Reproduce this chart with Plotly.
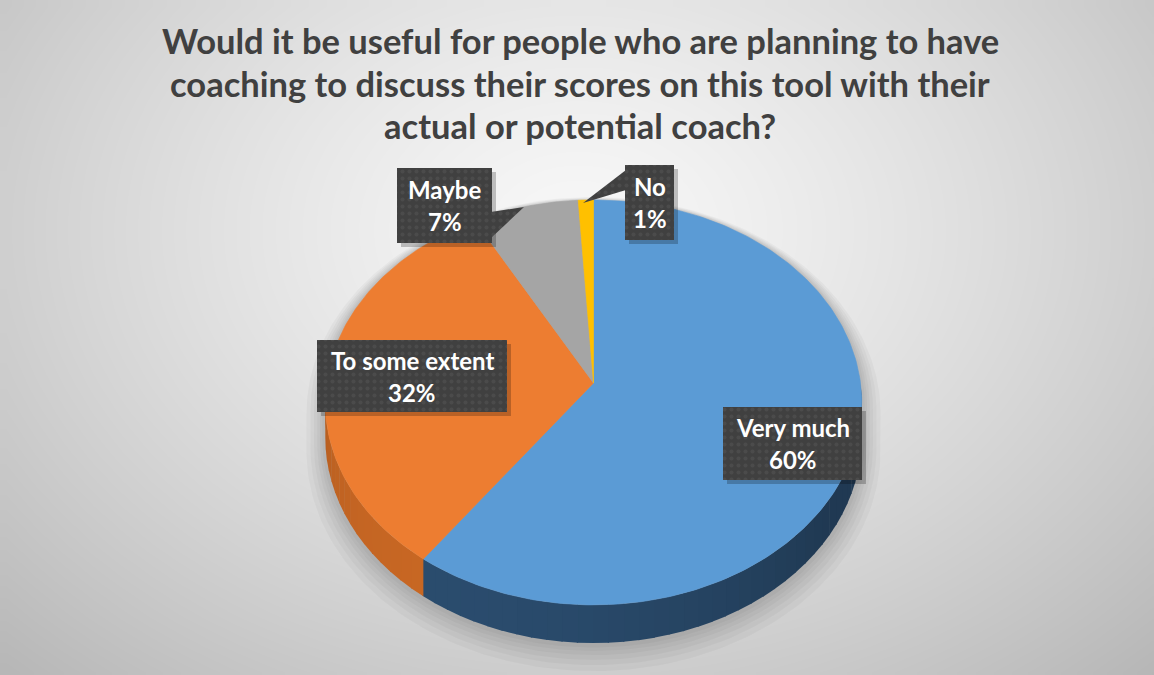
import numpy as np
import plotly.graph_objects as go

# Survey responses
labels = ["Very much", "To some extent", "Maybe", "No"]
values = [60, 32, 7, 1]
top_colors = ["#5B9BD5", "#ED7D31", "#A5A5A5", "#FFC000"]
side_colors = [(38, 68, 98), (178, 92, 32), (110, 110, 110), (170, 128, 0)]

title_lines = [
    "Would it be useful for people who are planning to have",
    "coaching to discuss their scores on this tool with their",
    "actual or potential coach?",
]

W, H = 1154, 675

# 3-D pie geometry (pixel space): centre, radii, perspective and thickness
CX, CY = 593.5, 383.0
A, B = 267.0, 200.6
P = 0.096
D = 34.5


def proj(theta, depth=0.0):
    X = np.sin(theta)
    Z = -np.cos(theta)
    s = 1.0 / (1.0 - P * Z)
    return CX + A * X * s, CY + (B * Z + D * depth) * s


fig = go.Figure()

# Backdrop: soft radial grey gradient
gx = np.linspace(6, 1152, 80)
gy = np.linspace(6, 672, 50)
GX, GY = np.meshgrid(gx, gy)
r = np.sqrt(((GX - 578) / 700.0) ** 2 + ((GY - 230) / 520.0) ** 2)
shade = 247 - 52 * np.clip(r, 0, None) ** 1.3
fig.add_trace(go.Heatmap(
    x=gx, y=gy, z=shade, zmin=0, zmax=255, zsmooth="best",
    colorscale=[[0, "rgb(0,0,0)"], [1, "rgb(255,255,255)"]],
    showscale=False, hoverinfo="skip",
))

# Slice angles (clockwise from 12 o'clock)
total = float(sum(values))
bounds = np.concatenate([[0.0], np.cumsum(values) / total * 2 * np.pi])

# Soft shadow round the pie body, heavier towards the bottom
t_front = np.linspace(np.deg2rad(95.5), np.deg2rad(264.5), 120)
t_back_arc = np.linspace(np.deg2rad(264.5), np.deg2rad(95.5 + 360), 200)
sx1, sy1 = proj(t_back_arc)
sx2, sy2 = proj(t_front, 1.0)
sil_x = np.concatenate([sx1, sx2])
sil_y = np.concatenate([sy1, sy2])
pivot_y = CY - 140
for f in [1.07, 1.055, 1.042, 1.03, 1.02, 1.011]:
    fig.add_trace(go.Scatter(
        x=CX + (sil_x - CX) * f, y=pivot_y + (sil_y - pivot_y) * f,
        mode="lines", line=dict(width=0), fill="toself",
        fillcolor="rgba(0,0,0,0.032)", hoverinfo="skip", showlegend=False,
    ))

# Side walls (front half only), shaded by facing angle
front0, front1 = np.deg2rad(90), np.deg2rad(270)
for i in range(len(values)):
    a0, a1 = max(bounds[i], front0), min(bounds[i + 1], front1)
    if a1 <= a0:
        continue
    n = max(1, int(np.ceil(np.rad2deg(a1 - a0) / 3)))
    edges = np.linspace(a0, a1, n + 1)
    for j in range(n):
        t = np.linspace(edges[j], edges[j + 1] + 0.004, 6)
        xt, yt = proj(t)
        xb, yb = proj(t[::-1], 1.0)
        mid = 0.5 * (edges[j] + edges[j + 1])
        m = 0.85 + 0.27 * max(0.0, np.cos(mid - np.deg2rad(215)))
        c = tuple(int(min(255, v * m)) for v in side_colors[i])
        fig.add_trace(go.Scatter(
            x=np.concatenate([xt, xb]), y=np.concatenate([yt, yb]),
            mode="lines", line=dict(width=0), fill="toself",
            fillcolor="rgb(%d,%d,%d)" % c, hoverinfo="skip", showlegend=False,
        ))

# Top faces
for i in range(len(values)):
    t = np.linspace(bounds[i], bounds[i + 1], max(4, int(values[i] * 4)))
    xt, yt = proj(t)
    fig.add_trace(go.Scatter(
        x=np.concatenate([[CX], xt, [CX]]), y=np.concatenate([[CY], yt, [CY]]),
        mode="lines", line=dict(width=0.6, color=top_colors[i]), fill="toself",
        fillcolor=top_colors[i], name=labels[i], hoverinfo="name",
        showlegend=False,
    ))

# Data-label callouts: box extents and optional pointer tip
label_boxes = [
    dict(x0=723, x1=862, y0=407, y1=480, ptr=None),
    dict(x0=317, x1=507, y0=340, y1=412, ptr=None),
    dict(x0=397, x1=492, y0=168, y1=243, ptr=[(491, 212), (491, 238), (524, 207)]),
    dict(x0=625, x1=674, y0=165, y1=240, ptr=[(626, 170), (626, 190), (583, 203)]),
]

pattern = dict(shape=".", fgcolor="#565656", bgcolor="#404040", size=7, solidity=0.25)

for i, bx in enumerate(label_boxes):
    # drop shadow
    fig.add_trace(go.Scatter(
        x=[bx["x0"] + 4, bx["x1"] + 4, bx["x1"] + 4, bx["x0"] + 4, bx["x0"] + 4],
        y=[bx["y0"] + 4, bx["y0"] + 4, bx["y1"] + 4, bx["y1"] + 4, bx["y0"] + 4],
        mode="lines", line=dict(width=0), fill="toself",
        fillcolor="rgba(0,0,0,0.22)", hoverinfo="skip", showlegend=False,
    ))
    if bx["ptr"]:
        px, py = zip(*bx["ptr"])
        fig.add_trace(go.Scatter(
            x=list(px) + [px[0]], y=list(py) + [py[0]],
            mode="lines", line=dict(width=0), fill="toself",
            fillcolor="#404040", fillpattern=pattern,
            hoverinfo="skip", showlegend=False,
        ))
    fig.add_trace(go.Scatter(
        x=[bx["x0"], bx["x1"], bx["x1"], bx["x0"], bx["x0"]],
        y=[bx["y0"], bx["y0"], bx["y1"], bx["y1"], bx["y0"]],
        mode="lines", line=dict(width=0), fill="toself",
        fillcolor="#404040", fillpattern=pattern,
        hoverinfo="skip", showlegend=False,
    ))

annotations = []
label_font = dict(family="Lato", size=24, color="white", weight="bold")
for i, bx in enumerate(label_boxes):
    xc = 0.5 * (bx["x0"] + bx["x1"])
    yc = 0.5 * (bx["y0"] + bx["y1"])
    annotations.append(dict(
        x=xc, y=yc - 16, xref="x", yref="y", text=labels[i], showarrow=False,
        font=label_font, xanchor="center", yanchor="middle",
    ))
    annotations.append(dict(
        x=xc, y=yc + 16, xref="x", yref="y", text="%d%%" % values[i], showarrow=False,
        font=label_font, xanchor="center", yanchor="middle",
    ))

title_font = dict(family="Lato", size=34.5, color="#404040", weight="bold")
for k, (line, ty) in enumerate(zip(title_lines, [40, 83, 125])):
    annotations.append(dict(
        x=580, y=ty, xref="x", yref="y", text=line, showarrow=False,
        font=title_font, xanchor="center", yanchor="middle",
    ))

fig.update_layout(
    width=W, height=H,
    margin=dict(l=0, r=0, t=0, b=0),
    paper_bgcolor="white", plot_bgcolor="white",
    xaxis=dict(range=[0, W], visible=False, fixedrange=True),
    yaxis=dict(range=[H, 0], visible=False, fixedrange=True),
    annotations=annotations,
    showlegend=False,
)

fig.write_html("out.html")
